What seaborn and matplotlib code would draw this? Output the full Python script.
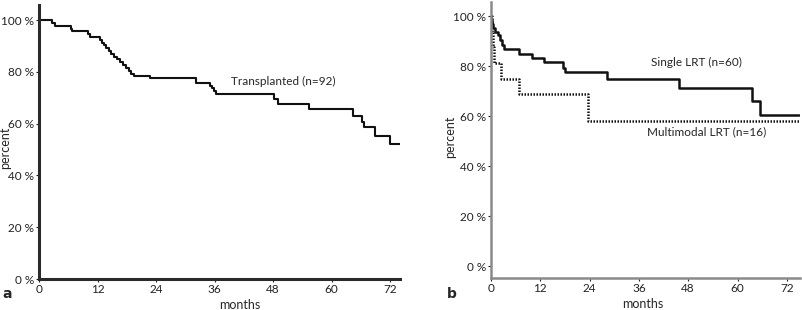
import numpy as np
import pandas as pd
import matplotlib
matplotlib.use('Agg')
import matplotlib.pyplot as plt
import seaborn as sns

# Kaplan-Meier step points (months, percent surviving)
tx_months = [0, 2.7, 3.3, 6.5, 6.8, 10.1, 10.5, 12.6, 13.0, 13.4, 13.8, 14.3, 14.8,
             15.4, 16.0, 16.6, 17.2, 17.8, 18.4, 18.9, 19.4, 22.8, 32.2, 35.0, 35.4,
             35.8, 36.2, 48.2, 49.0, 55.3, 64.3, 66.2, 66.6, 68.9, 72.0, 74.0]
tx_pct = [100, 98.9, 97.8, 96.7, 95.6, 94.5, 93.5, 92.4, 91.3, 90.2, 89.1, 88.0, 87.0,
          85.9, 84.8, 83.7, 82.6, 81.5, 80.4, 79.3, 78.4, 77.5, 75.8, 74.7, 73.6,
          72.5, 71.5, 69.5, 67.5, 65.6, 62.9, 60.8, 58.6, 55.4, 52.3, 52.3]

single_months = [0, 0.1, 0.2, 0.4, 1.0, 1.6, 2.2, 2.7, 3.2, 6.8, 10.0, 13.0, 17.6, 18.0,
                 28.2, 45.8, 63.5, 65.5, 75.0]
single_pct = [100, 98.3, 96.7, 95.2, 93.8, 92.3, 90.3, 88.5, 86.7, 85.0, 83.3, 81.5,
              79.3, 77.7, 74.8, 71.1, 66.1, 60.6, 60.6]

multi_months = [0, 0.2, 0.5, 0.8, 2.4, 6.9, 23.7, 75.0]
multi_pct = [100, 93.75, 87.5, 81.25, 75.0, 68.75, 58.0, 58.0]

month_ticks = [0, 12, 24, 36, 48, 60, 72]
pct_ticks = [0, 20, 40, 60, 80, 100]
pct_labels = ['0 %', '20 %', '40 %', '60 %', '80 %', '100 %']

sns.set_style('ticks')
plt.rcParams['font.family'] = ['Lato', 'DejaVu Sans']
plt.rcParams['font.size'] = 8.5

df_a = pd.DataFrame({'months': tx_months, 'percent': tx_pct})
df_b1 = pd.DataFrame({'months': single_months, 'percent': single_pct})
df_b2 = pd.DataFrame({'months': multi_months, 'percent': multi_pct})

fig = plt.figure(figsize=(8.03, 3.10), dpi=100)
ax1 = fig.add_axes([39 / 803, 1 - 279 / 310, (400 - 39) / 803, (279 - 5) / 310])
ax2 = fig.add_axes([491 / 803, 1 - 278 / 310, (800 - 491) / 803, (278 - 2) / 310])

# panel a
sns.lineplot(data=df_a, x='months', y='percent', ax=ax1, color='#111111',
             linewidth=1.5, drawstyle='steps-post', estimator=None)
ax1.set_xlim(0, 74)
ax1.set_ylim(0, 105.8)
ax1.text(39.4, 76.4, 'Transplanted (n=92)', fontsize=8.5, va='center', ha='left')
for side in ['left', 'bottom']:
    ax1.spines[side].set_linewidth(2.2)
    ax1.spines[side].set_color('#2a2a2a')

# panel b
sns.lineplot(data=df_b1, x='months', y='percent', ax=ax2, color='#111111',
             linewidth=1.8, drawstyle='steps-post', estimator=None)
sns.lineplot(data=df_b2, x='months', y='percent', ax=ax2, color='#111111',
             linewidth=1.8, drawstyle='steps-post', estimator=None,
             linestyle=(0, (0.6, 0.6)))
ax2.set_xlim(0, 75.2)
ax2.set_ylim(-4.8, 105.7)
ax2.text(38.9, 81.5, 'Single LRT (n=60)', fontsize=8.5, va='center', ha='left')
ax2.text(37.9, 53.6, 'Multimodal LRT (n=16)', fontsize=8.5, va='center', ha='left')
for side in ['left', 'bottom']:
    ax2.spines[side].set_linewidth(1.8)
    ax2.spines[side].set_color('#8a8a8a')

for ax in (ax1, ax2):
    sns.despine(ax=ax)
    ax.set_xticks(month_ticks)
    ax.set_yticks(pct_ticks)
    ax.set_yticklabels(pct_labels)
    ax.tick_params(axis='both', length=2.5, width=0.8, pad=1, labelsize=8.5,
                   colors='#222222')
    ax.set_xlabel('months', fontsize=9)
    ax.set_ylabel('percent', fontsize=9)
    ax.grid(False)

ax1.xaxis.set_label_coords(0.557, -0.095)
ax1.yaxis.set_label_coords(-0.094, 0.48)
ax2.xaxis.set_label_coords(0.49, -0.095)
ax2.yaxis.set_label_coords(-0.133, 0.51)
ax1.xaxis.label.set_va('center')
ax1.yaxis.label.set_va('center')
ax2.xaxis.label.set_va('center')
ax2.yaxis.label.set_va('center')

fig.text(2 / 803, 1 - 294 / 310, 'a', fontsize=10, fontweight='bold', va='center',
         family='DejaVu Sans')
fig.text(447 / 803, 1 - 294 / 310, 'b', fontsize=10, fontweight='bold', va='center',
         family='DejaVu Sans')

fig.savefig('out.png', dpi=100)
